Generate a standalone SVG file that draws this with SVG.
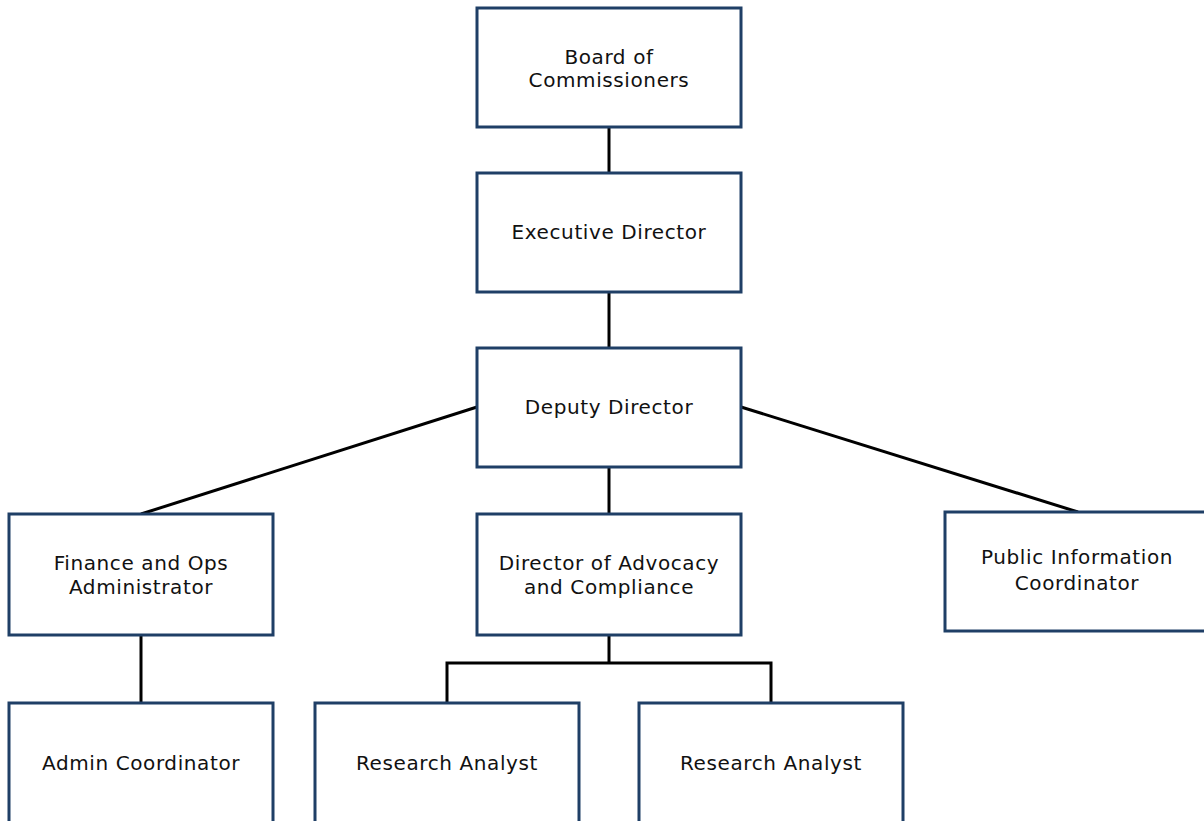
<svg xmlns="http://www.w3.org/2000/svg" width="1204" height="821" viewBox="0 0 1204 821">
<style>
.box{fill:#fff;stroke:#1f3f66;stroke-width:3}
.lbl{font-family:"DejaVu Sans",Verdana,sans-serif;font-size:20px;letter-spacing:0.6px;fill:#111;text-anchor:middle}
.conn{fill:none;stroke:#000;stroke-width:3}
</style>
<rect width="1204" height="821" fill="#fff"/>
<g id="connectors">
<line class="conn" x1="609" y1="127" x2="609" y2="173"/>
<line class="conn" x1="609" y1="292" x2="609" y2="348"/>
<line class="conn" x1="477" y1="407" x2="141" y2="514"/>
<line class="conn" x1="741" y1="407" x2="1078" y2="512"/>
<line class="conn" x1="609" y1="467" x2="609" y2="514"/>
<line class="conn" x1="141" y1="635" x2="141" y2="703"/>
<path class="conn" d="M609 635 V663 M447 703 V663 H771 V703"/>
</g>
<g id="board"><rect class="box" x="477" y="8" width="264" height="119"/><text class="lbl" x="609" y="64">Board of</text><text class="lbl" x="609" y="87">Commissioners</text></g>
<g id="executive"><rect class="box" x="477" y="173" width="264" height="119"/><text class="lbl" x="609" y="239">Executive Director</text></g>
<g id="deputy"><rect class="box" x="477" y="348" width="264" height="119"/><text class="lbl" x="609" y="414">Deputy Director</text></g>
<g id="finance"><rect class="box" x="9" y="514" width="264" height="121"/><text class="lbl" x="141" y="570">Finance and Ops</text><text class="lbl" x="141" y="594">Administrator</text></g>
<g id="advocacy"><rect class="box" x="477" y="514" width="264" height="121"/><text class="lbl" x="609" y="570">Director of Advocacy</text><text class="lbl" x="609" y="594">and Compliance</text></g>
<g id="public"><rect class="box" x="945" y="512" width="264" height="119"/><text class="lbl" x="1077" y="564">Public Information</text><text class="lbl" x="1077" y="590">Coordinator</text></g>
<g id="admin"><rect class="box" x="9" y="703" width="264" height="130"/><text class="lbl" x="141" y="770">Admin Coordinator</text></g>
<g id="analyst1"><rect class="box" x="315" y="703" width="264" height="130"/><text class="lbl" x="447" y="770">Research Analyst</text></g>
<g id="analyst2"><rect class="box" x="639" y="703" width="264" height="130"/><text class="lbl" x="771" y="770">Research Analyst</text></g>
</svg>
